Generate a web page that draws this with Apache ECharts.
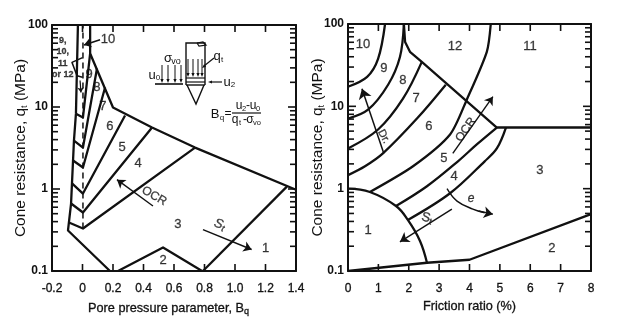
<!DOCTYPE html>
<html><head><meta charset="utf-8">
<style>html,body{margin:0;padding:0;background:#fff}#c{width:631px;height:330px}</style>
<script src="https://cdn.jsdelivr.net/npm/echarts@6/dist/echarts.min.js"></script>
</head><body><div id="c"></div>
<script>
// ---------- left panel: Bq vs qt ----------
const bqTicks = [-0.2,0,0.2,0.4,0.6,0.8,1.0,1.2,1.4];
const qtMinorTicks = [0.2,0.3,0.4,0.5,0.6,0.7,0.8,0.9,2,3,4,5,6,7,8,9,20,30,40,50,60,70,80,90];
const qtMajorTicks = [0.1,1,10,100];
const leftOuter = [[-0.03,100],[-0.043,8.3],[-0.056,3.9],[-0.062,2.23],[-0.069,1.17],[-0.075,0.665],[-0.095,0.312],[0.18,0.1]];
const leftZone2 = [[0.233,0.1],[0.528,0.194],[0.784,0.1]];
const leftZone1 = [[0.79,0.1],[1.34,1.07]];
const leftTop = [[0.05,100],[0.05,44.9],[0.2,9.86],[0.456,5.62],[0.738,3.2],[1.4,0.98]];
const leftFan1 = [[-0.043,8.3],[0.003,7.45],[0.05,44.9]];
const leftFan2 = [[-0.056,3.9],[0.003,3.2],[0.095,29.5]];
const leftFan3 = [[-0.062,2.23],[0.003,1.83],[0.148,17.3]];
const leftFan4 = [[-0.069,1.17],[0.003,0.88],[0.279,7.87]];
const leftFan5 = [[-0.075,0.665],[0.003,0.517],[0.456,5.62]];
const leftFan6 = [[-0.089,0.39],[0.003,0.33],[0.738,3.2]];
const leftDashed = [[0.003,0.33],[0.003,100]];
const leftBracket = [[0,40],[-0.069,35],[-0.036,24],[0,23]];
const leftArrowOCR = [[0.462,0.62],[0.226,1.3]];
const leftArrowSt = [[0.79,0.32],[1.109,0.183]];
const leftArrow10 = [[0.115,66],[0.01,57]];
const leftArrowBracket = [[-0.016,21],[-0.01,15]];
const leftLabels = [[0.167,66.5,'10'],[0.043,24.9,'9'],[0.095,17.3,'8'],[0.134,10.1,'7'],[0.18,5.8,'6'],[0.259,3.2,'5'],[0.364,2.05,'4'],[0.626,0.369,'3'],[0.528,0.134,'2'],[1.2,0.188,'1']];

// ---------- right panel: friction ratio vs qt ----------
const frTicks = [0,1,2,3,4,5,6,7,8];
const rightC1 = [[0,17.3],[0.63,22.8],[0.99,37.7],[1.22,100]];
const rightC2 = [[0,7.1],[0.66,9.1],[1.32,18.3],[1.71,39.8],[1.84,100]];
const rightJunction = [[1.84,100],[1.88,60.4],[2.04,45.9],[2.43,34.7],[4.9,5.53],[8,5.53]];
const rightC3 = [[0,3.08],[0.99,5.23],[1.81,12.4],[2.43,34.7]];
const rightC4 = [[0,1.46],[0.56,1.87],[1.15,2.68],[2.27,7.1],[3.22,18.3]];
const rightC5 = [[0.72,0.91],[2.14,1.87],[3.36,4.55],[3.91,12.05],[4.57,45.9],[4.7,100]];
const rightC6 = [[1.58,0.615],[2.6,1.07],[3.62,2.15],[4.24,3.45],[4.9,5.53]];
const rightC7 = [[1.97,0.417],[3.36,0.88],[4.5,2.15],[4.9,3.08],[5.2,5.53]];
const rightArc = [[0,1],[0.72,0.91],[1.58,0.615],[1.97,0.417],[2.37,0.232],[2.6,0.126]];
const rightBottom = [[0,0.1],[2.6,0.126],[4.0,0.137],[8,0.49]];
const rightArrowDr = [[1.18,2.68],[0.46,16.4]];
const rightArrowOCR = [[3.45,2.68],[4.77,13.1]];
const rightArrowSt = [[3.42,0.565],[1.71,0.226]];
const rightCurveE = [[3.26,1.0],[3.59,0.706],[4.11,0.565],[4.5,0.51]];
const rightArrowE = [[4.3,0.535],[4.77,0.49]];
const rightLabels = [[0.49,57,'10'],[1.18,28.5,'9'],[1.81,20.4,'8'],[2.24,12.4,'7'],[2.66,5.7,'6'],[3.16,2.34,'5'],[3.52,54,'12'],[5.99,54,'11'],[3.49,1.42,'4'],[6.32,1.67,'3'],[6.71,0.186,'2'],[0.66,0.307,'1']];

const INK = '#111';
const FONT = '"Liberation Sans",Arial,sans-serif';
const sub = {fontSize:9,fontFamily:FONT,color:INK,padding:[7,0,0,0]};
const subBold = {fontSize:9,fontFamily:FONT,color:INK,padding:[6,0,0,0]};

function yAxes(grid, side, labelled){
  return {type:'log',logBase:10,min:0.1,max:100,gridIndex:grid,position:side,splitLine:{show:false},
    axisLine:{show:true,onZero:false,lineStyle:{color:INK,width:2}},
    axisTick:{show:false},
    axisLabel:labelled?{show:true,customValues:qtMajorTicks,color:INK,fontFamily:FONT,fontSize:12,fontWeight:'bold',margin:4,formatter:v=>String(+v)}:{show:false},
    name:labelled?'Cone resistance, q{s|t} (MPa)':'',nameLocation:'middle',nameRotate:90,nameGap:labelled===1?23:22,nameMoveOverlap:false,
    nameTextStyle:{color:INK,fontFamily:FONT,fontSize:15.5,rich:{s:sub}}};
}
function xAxes(grid, ticks, min, max, interval, nameTxt, gap, pad){
  const base = {type:'value',min,max,interval,gridIndex:grid,splitLine:{show:false},
    axisLine:{show:true,onZero:false,lineStyle:{color:INK,width:2}},axisTick:{show:false}};
  return [
    Object.assign({},base,{position:'bottom',
      axisLabel:{show:true,color:INK,fontFamily:FONT,fontSize:12,margin:12,textBorderColor:INK,textBorderWidth:0.3,formatter:v=>{
        const s=ticks.find(t=>Math.abs(t-v)<1e-6); return Number.isInteger(s)&&grid===0&&s!==0?s.toFixed(1):String(s);}},
      name:nameTxt,nameLocation:'middle',nameGap:gap,
      nameTextStyle:{color:INK,fontFamily:FONT,fontSize:12.7,textBorderColor:INK,textBorderWidth:0.3,padding:pad,rich:{s:sub}}}),
    Object.assign({},base,{position:'top',axisLabel:{show:false}})
  ];
}
const xAxis=[...xAxes(0,bqTicks,-0.2,1.4,0.2,'Pore pressure parameter, B{s|q}',29,[0,11,0,0]),
             ...xAxes(1,frTicks,0,8,1,'Friction ratio (%)',28,[0,0,0,0])];
const yAxis=[yAxes(0,'left',1),yAxes(0,'right',0),yAxes(1,'left',2),yAxes(1,'right',0)];

const axes = p => p===0?{xAxisIndex:0,yAxisIndex:0}:{xAxisIndex:2,yAxisIndex:2};
function line(p,data,smooth,w,extra){
  return Object.assign({type:'line',...axes(p),data,showSymbol:false,symbol:'none',smooth:smooth||false,silent:true,
    lineStyle:{color:INK,width:w||2.3,join:'round'},z:3,clip:true},extra||{});
}
function arrow(p,pts,w,size){
  return {type:'line',...axes(p),data:[],silent:true,symbol:'none',markLine:{silent:true,animation:false,symbol:['none','arrow'],symbolSize:size||8,
    label:{show:false},lineStyle:{color:INK,width:w||1.4,type:'solid'},
    data:[[{coord:pts[0]},{coord:pts[1]}]]}};
}
function labels(p,items){
  return {type:'scatter',...axes(p),symbolSize:0,silent:true,z:5,
    data:items.map(d=>({value:[d[0],d[1]],label:Object.assign({show:true,position:'inside',formatter:d[2],
      color:INK,fontFamily:FONT,fontSize:13,textBorderColor:INK,textBorderWidth:0.3,rich:{s:subBold}},d[3]||{})}))};
}
// inward frame ticks as short line series on the panel's own axes
const DEC_PX = 82;
function frameTicks(p,xTicks,xMin,xMax,xPxPerUnit){
  const out=[];
  const seg=(a,b)=>out.push(line(p,[a,b],false,1.6,{z:6,clip:false}));
  const yStep=10**(7/DEC_PX);
  xTicks.forEach(v=>{seg([v,0.1],[v,0.1*yStep]);seg([v,100],[v,100/yStep]);});
  const hor=(values,len)=>values.forEach(q=>{
    seg([xMin,q],[xMin+len/xPxPerUnit,q]);seg([xMax,q],[xMax-len/xPxPerUnit,q]);});
  hor(qtMajorTicks,8);hor(qtMinorTicks,6);
  return out;
}
const series=[
  ...frameTicks(0,bqTicks,-0.2,1.4,152.5),...frameTicks(1,frTicks,0,8,30.4),
  line(0,leftOuter),line(0,leftZone2),line(0,leftZone1),line(0,leftTop),
  line(0,leftFan1),line(0,leftFan2),line(0,leftFan3),line(0,leftFan4),line(0,leftFan5),line(0,leftFan6),
  line(0,leftDashed,false,1.5,{lineStyle:{color:INK,width:1.5,type:[6,4]}}),
  line(0,leftBracket,false,1.5),
  arrow(0,leftArrowOCR),arrow(0,leftArrowSt),arrow(0,leftArrow10,1.6,7),arrow(0,leftArrowBracket,1.2,5),
  labels(0,leftLabels),
  labels(0,[[0.47,0.82,'OCR',{rotate:-30,fontSize:12}],[0.9,0.369,'S{s|t}',{rotate:-20,fontSize:13,fontStyle:'italic'}],
            [-0.13,40,'9,\n10,\n11\nor 12',{fontSize:9,fontWeight:'bold',lineHeight:11.5,align:'center'}]]),
  line(1,rightC1,0.35),line(1,rightC2,0.35),line(1,rightJunction),line(1,rightC3,0.35),line(1,rightC4,0.35),
  line(1,rightC5,0.25),line(1,rightC6,0.35),line(1,rightC7,0.35),line(1,rightArc,0.4),line(1,rightBottom),
  arrow(1,rightArrowDr,1.5,10),arrow(1,rightArrowOCR,1.4,8),arrow(1,rightArrowSt,1.4,9),
  line(1,rightCurveE,0.4,1.4),arrow(1,rightArrowE,1.4,9),
  labels(1,rightLabels),
  labels(1,[[1.18,4.3,'Dr.',{rotate:-62,fontSize:11}],[3.88,5.2,'OCR',{rotate:55,fontSize:12}],
            [2.6,0.44,'S{s|t}',{rotate:-15,fontSize:13}],[4.05,0.746,'e',{fontSize:12,fontStyle:'italic'}]])
];

const t=(x,y,s,size,ff)=>({type:'text',x,y,style:{text:s,fill:INK,fontSize:size,fontFamily:ff||FONT,textAlign:'center',textVerticalAlign:'middle'}});
const ln=(a,b,c,d,w)=>({type:'line',shape:{x1:a,y1:b,x2:c,y2:d},style:{stroke:INK,lineWidth:w||1.2}});
const head=(x,y,dx,dy)=>({type:'polygon',shape:{points:[[x,y],[x-dx*4-dy*1.6,y-dy*4+dx*1.6],[x-dx*4+dy*1.6,y-dy*4-dx*1.6]]},style:{fill:INK}});
const graphic=[
  {type:'polyline',shape:{points:[[186,85],[186,43],[205,43],[205,85]]},style:{stroke:INK,fill:'none',lineWidth:1.4}},
  {type:'polyline',shape:{points:[[197,43],[203,42],[206,45],[199,46],[197,43]]},style:{stroke:INK,fill:'none',lineWidth:1.2}},
  ln(186,78,205,78,1.2),ln(186,82,205,82,1.2),ln(186,85,205,85,1.4),
  {type:'polyline',shape:{points:[[187,85],[196,104],[204,85]]},style:{stroke:INK,fill:'none',lineWidth:1.4}},
  ...[188,193,198,202].flatMap(x=>[ln(x,59,x,75,1),head(x,77,0,1)]),
  ...[162,168,175,181].flatMap(x=>[ln(x,65,x,81,1),head(x,83,0,1)]),
  ln(155,84,183,84,1.6),
  ln(214,58,204,66,1.2),head(202,68,-0.78,0.62),
  ln(222,82,211,82,1.2),head(208,82,-1,0),
  t(217,56,'q',13),t(222,60,'t',8),
  t(168,58,'σ',13),t(176,62,'vo',9),
  t(152,75,'u',13),t(158,78,'0',8),
  t(227,82,'u',13),t(233,85,'2',8),
  t(215,114,'B',13),t(222,118,'q',8),t(228,114,'=',12),
  t(239,106,'u',12),t(244,109,'2',7.5),t(248,106,'-',12),t(253,106,'u',12),t(258,109,'0',7.5),
  ln(232,113,261,113,1.2),
  t(235,120,'q',12),t(240,123,'t',7.5),t(245,120,'-',12),t(250,120,'σ',12),t(257,123,'vo',7.5)
];

const chart=echarts.init(document.getElementById('c'),null,{renderer:'canvas'});
chart.setOption({animation:false,backgroundColor:'#fff',
  grid:[{left:52,top:25,width:244,height:246},{left:348,top:24,width:243,height:247}],
  xAxis,yAxis,series,graphic});
</script></body></html>
